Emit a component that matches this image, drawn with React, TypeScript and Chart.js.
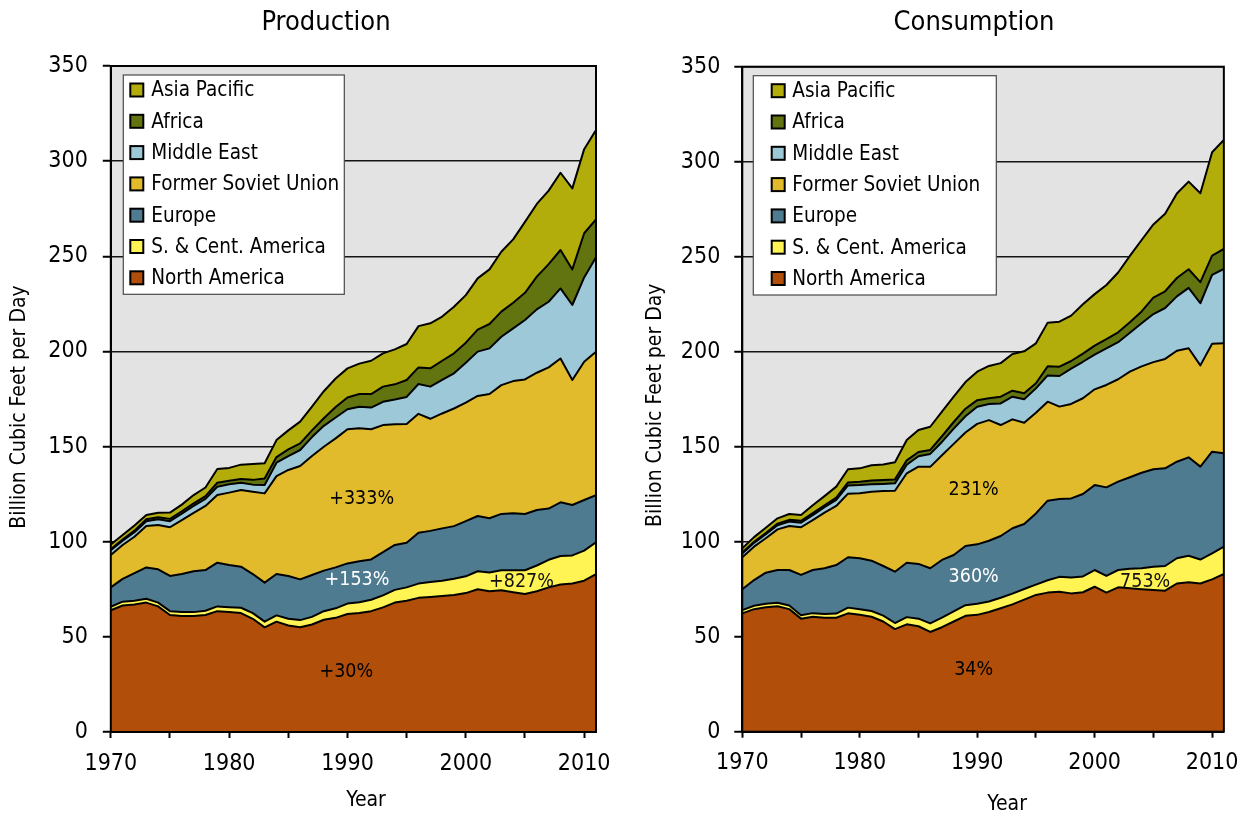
import React, { useEffect, useRef } from "react";
import { Chart, registerables } from "chart.js";

Chart.register(...registerables);

const FONT_FAMILY = "'DejaVu Sans Condensed', 'DejaVu Sans', sans-serif";

// ---------- data ----------
const YEARS = [
  1970, 1971, 1972, 1973, 1974, 1975, 1976, 1977, 1978, 1979,
  1980, 1981, 1982, 1983, 1984, 1985, 1986, 1987, 1988, 1989,
  1990, 1991, 1992, 1993, 1994, 1995, 1996, 1997, 1998, 1999,
  2000, 2001, 2002, 2003, 2004, 2005, 2006, 2007, 2008, 2009,
  2010, 2011,
];

const SERIES_NAMES = [
  "North America",
  "S. & Cent. America",
  "Europe",
  "Former Soviet Union",
  "Middle East",
  "Africa",
  "Asia Pacific",
];

const SERIES_COLORS = [
  "#B14E0A",
  "#FFF454",
  "#4E7B90",
  "#E2BB2D",
  "#9CC8D8",
  "#627410",
  "#B2AD0B",
];

// Production (billion cubic feet per day)
const NA_PROD = [64, 66.5, 67, 68, 66, 61.5, 61, 61, 61.5, 63.5, 63, 62.5, 59.5, 55, 58, 56, 55, 56.5, 59, 60, 62, 62.5, 63.5, 65.5, 68, 69, 70.5, 71, 71.5, 72, 73, 75, 74, 74.5, 73.5, 72.5, 74, 76, 77.5, 78, 79.5, 83];
const SCA_PROD = [1.8, 2.0, 2.0, 2.0, 2.0, 2.0, 2.0, 2.0, 2.2, 2.5, 2.6, 2.8, 3.0, 3.0, 3.3, 3.5, 3.8, 4.0, 4.5, 5.0, 5.5, 5.7, 6.0, 6.3, 6.7, 7.0, 7.5, 7.8, 8.0, 8.5, 8.8, 9.5, 9.8, 10.5, 11.5, 12.5, 13.5, 14.5, 15.0, 14.8, 15.8, 16.7];
const EUR_PROD = [10.2, 12, 14.5, 16.5, 17.5, 18.5, 20, 21.5, 21.4, 23, 22.2, 21.6, 20.5, 20.5, 21.7, 22.5, 21.4, 22, 21.3, 21.5, 21.1, 21.5, 21.2, 22.7, 23.6, 23.5, 26.7, 26.9, 27.5, 27.7, 29, 29, 28.5, 29.6, 29.9, 29.6, 29.2, 26.9, 28.2, 26.5, 26.6, 24.8];
const FSU_PROD = [17, 17.8, 19.1, 21.7, 23.3, 25.6, 28.4, 30.7, 33.7, 35.5, 38, 40.3, 43.3, 46.9, 51.5, 55.7, 59.6, 62.5, 65.1, 67.8, 70.5, 69.9, 68.4, 66.8, 63.4, 62.4, 62.5, 58.9, 60.4, 61.8, 62.3, 63.1, 65.3, 67.7, 69.5, 70.7, 72.1, 74.2, 75.6, 65.7, 72.7, 75.3];
const ME_PROD = [2.5, 2.2, 2.4, 2.6, 3.0, 3.2, 3.4, 3.6, 3.7, 4.4, 4.4, 3.8, 3.7, 4.4, 7.0, 7.3, 8.4, 10.0, 11.0, 11.0, 10.5, 11.3, 11.4, 12.2, 13.0, 14.2, 15.7, 16.9, 17.6, 18.5, 21.0, 23.3, 24.0, 25.4, 27.7, 31.2, 33.3, 34.5, 36.8, 39.4, 44.3, 49.7];
const AF_PROD = [0.5, 0.7, 0.8, 1.0, 1.0, 1.2, 1.2, 1.4, 1.5, 2.1, 1.8, 2.0, 2.5, 3.4, 3.0, 3.5, 3.5, 3.5, 4.0, 5.5, 6.2, 6.7, 7.1, 8.0, 8.0, 8.9, 8.7, 9.6, 10.1, 10.5, 10.5, 11.6, 12.8, 13.2, 13.5, 14.3, 17.2, 19.8, 20.2, 18.7, 23.2, 19.9];
const AP_PROD = [2.5, 2.3, 2.7, 2.2, 2.4, 3.3, 3.5, 4.3, 4.5, 7.2, 6.8, 7.5, 8.3, 8.0, 8.9, 10.0, 11.4, 12.5, 14.2, 15.0, 15.3, 16.0, 17.5, 17.5, 18.4, 18.9, 21.7, 23.7, 23.2, 24.5, 25.0, 26.9, 28.7, 31.5, 33.3, 37.3, 38.2, 38.6, 40.6, 42.6, 44.2, 46.9];

// Consumption (billion cubic feet per day)
const NA_CONS = [62.3, 64.5, 65.5, 66, 64.5, 59.5, 60.5, 60, 60, 62.3, 61.5, 60.5, 58, 54, 56.5, 55.5, 52.5, 55, 58, 61, 61.5, 63, 65, 67, 69.5, 72, 73.2, 73.7, 72.8, 73.4, 76.3, 73.2, 76, 75.5, 75, 74.6, 74.2, 78, 78.6, 78, 80.2, 83];
const SCA_CONS = [1.7, 1.8, 1.8, 1.9, 1.9, 1.8, 1.9, 2.0, 2.2, 3.0, 3.0, 3.0, 3.1, 3.2, 3.8, 4.0, 4.5, 5.0, 5.3, 5.6, 5.8, 5.5, 5.5, 5.7, 5.6, 5.4, 6.5, 7.8, 8.3, 8.3, 8.8, 8.8, 9.1, 10.2, 11.0, 12.2, 13.0, 13.3, 14.0, 12.6, 13.7, 14.4];
const EUR_CONS = [11.0, 13.5, 16.4, 17.2, 18.7, 21.2, 22.7, 24.0, 25.5, 26.5, 26.8, 26.5, 26.1, 27.0, 28.6, 28.8, 29.0, 30.4, 29.7, 31.1, 31.3, 32.0, 32.5, 34.4, 34.2, 37.5, 41.9, 41.0, 41.7, 43.4, 44.7, 46.6, 46.5, 48.2, 50.3, 51.3, 51.4, 50.8, 51.8, 48.9, 53.5, 49.1];
const FSU_CONS = [16.8, 17.6, 18.1, 21.4, 23.2, 25.1, 26.3, 29.3, 31.1, 33.5, 34.2, 36.3, 39.5, 42.6, 47.1, 51.2, 53.4, 55.1, 58.5, 59.8, 63.4, 63.5, 58.4, 57.3, 53.3, 53.0, 52.1, 48.6, 49.7, 50.4, 50.4, 53.9, 53.9, 55.6, 56.0, 56.4, 57.6, 58.4, 57.4, 53.3, 56.8, 57.9];
const ME_CONS = [2.0, 2.0, 2.1, 2.2, 2.3, 2.4, 2.6, 2.9, 3.2, 4.3, 4.3, 3.9, 3.7, 3.9, 4.5, 5.5, 6.8, 7.0, 8.0, 8.5, 9.0, 8.5, 11.4, 11.9, 12.4, 12.8, 13.8, 16.1, 18.6, 19.2, 18.3, 19.2, 19.5, 20.5, 22.7, 25.3, 26.8, 28.6, 31.8, 32.7, 36.2, 39.2];
const AF_CONS = [0.5, 0.6, 0.7, 0.8, 0.9, 1.0, 1.0, 1.0, 1.2, 1.6, 1.8, 2.0, 2.1, 2.1, 2.3, 2.2, 2.1, 3.0, 3.5, 4.0, 3.5, 3.0, 3.5, 3.2, 3.1, 2.7, 4.8, 4.9, 4.0, 4.3, 4.7, 4.9, 5.2, 5.5, 6.2, 8.7, 8.8, 9.7, 9.8, 11.1, 10.2, 10.5];
const AP_CONS = [2.2, 2.4, 2.7, 2.8, 3.1, 3.1, 4.2, 4.8, 5.8, 6.9, 7.0, 8.0, 8.1, 9.0, 10.7, 11.6, 12.2, 12.9, 13.3, 14.0, 15.0, 17.0, 17.7, 19.3, 22.1, 21.0, 23.0, 23.7, 23.9, 26.0, 27.1, 28.5, 31.5, 34.9, 37.6, 38.5, 40.8, 44.5, 46.1, 46.8, 54.4, 57.3];

const X_LABELED_TICKS = [1970, 1980, 1990, 2000, 2010];
const Y_TITLE = "Billion Cubic Feet per Day";
const X_TITLE = "Year";

// growth annotations (placed in data coordinates)
const PROD_NOTES = [
  { text: "+333%", x: 1991.2, y: 122.4, color: "#000" },
  { text: "+153%", x: 1990.8, y: 79.9, color: "#fff" },
  { text: "+827%", x: 2004.7, y: 79.0, color: "#111" },
  { text: "+30%", x: 1989.9, y: 31.7, color: "#000" },
];
const CONS_NOTES = [
  { text: "231%", x: 1989.7, y: 127.2, color: "#000" },
  { text: "360%", x: 1989.7, y: 81.6, color: "#fff" },
  { text: "753%", x: 2004.3, y: 79.0, color: "#111" },
  { text: "34%", x: 1989.7, y: 32.5, color: "#000" },
];

// ---------- layout ----------
const PROD_LAYOUT = {
  left: 0, width: 625,
  yWidth: 110.8, padRight: 29, titleTop: 7, titleBottom: 26.6, xHeight: 85,
  titleX: 326, yTickPad: 15, xTickPad: 12,
  legend: { dx: 12.5, dy: 9, w: 221, h: 219.3, swatchX: 7, textX: 28, firstRow: 15, rowGap: 31.3 },
  yTitle: { dx: -91.5, dy: 8 }, xTitle: { dx: 12.6, y: 801 },
};
const CONS_LAYOUT = {
  left: 625, width: 626,
  yWidth: 117.3, padRight: 23.5, titleTop: 7, titleBottom: 27.3, xHeight: 85.3,
  titleX: 349, yTickPad: 14, xTickPad: 12,
  legend: { dx: 11, dy: 9, w: 243, h: 219.3, swatchX: 18.4, textX: 39, firstRow: 15, rowGap: 31.3 },
  yTitle: { dx: -86.5, dy: 6 }, xTitle: { dx: 24, y: 805 },
};

function makePlugins(cfg: any, notes: any[]) {
  return [
    {
      id: "plotBg",
      beforeDraw(chart: any) {
        const { ctx, chartArea: a } = chart;
        ctx.save();
        ctx.fillStyle = "#E3E3E3";
        ctx.fillRect(a.left, a.top, a.right - a.left, a.bottom - a.top);
        ctx.restore();
      },
    },
    {
      id: "titleShift",
      afterLayout(chart: any) {
        const t = chart.titleBlock;
        if (t) {
          t.left = cfg.titleX - 200;
          t.right = cfg.titleX + 200;
        }
      },
    },
    {
      id: "frameNotes",
      afterDatasetsDraw(chart: any) {
        const { ctx, chartArea: a } = chart;
        ctx.save();
        ctx.strokeStyle = "#000";
        ctx.lineWidth = 2;
        ctx.strokeRect(a.left, a.top, a.right - a.left, a.bottom - a.top);
        ctx.font = `19.5px ${FONT_FAMILY}`;
        ctx.textAlign = "center";
        ctx.textBaseline = "middle";
        for (const n of notes) {
          ctx.fillStyle = n.color;
          ctx.fillText(n.text, chart.scales.x.getPixelForValue(n.x), chart.scales.y.getPixelForValue(n.y));
        }
        ctx.restore();
      },
    },
    {
      id: "boxLegendTitles",
      afterDraw(chart: any) {
        const { ctx, chartArea: a } = chart;
        const L = cfg.legend;
        const x0 = a.left + L.dx;
        const y0 = a.top + L.dy;
        ctx.save();
        ctx.fillStyle = "#fff";
        ctx.fillRect(x0, y0, L.w, L.h);
        ctx.strokeStyle = "#4a4a4a";
        ctx.lineWidth = 1.2;
        ctx.strokeRect(x0, y0, L.w, L.h);
        const ds = chart.data.datasets.slice().reverse();
        ctx.font = `20.5px ${FONT_FAMILY}`;
        ctx.textAlign = "left";
        ctx.textBaseline = "middle";
        ds.forEach((d: any, i: number) => {
          const cy = y0 + L.firstRow + i * L.rowGap;
          ctx.fillStyle = d.backgroundColor;
          ctx.fillRect(x0 + L.swatchX, cy - 6.5, 13, 13);
          ctx.strokeStyle = "#000";
          ctx.lineWidth = 2;
          ctx.strokeRect(x0 + L.swatchX, cy - 6.5, 13, 13);
          ctx.fillStyle = "#000";
          ctx.fillText(d.label, x0 + L.textX, cy + 1);
        });
        // axis titles
        ctx.font = `21px ${FONT_FAMILY}`;
        ctx.fillStyle = "#000";
        ctx.textAlign = "center";
        ctx.textBaseline = "middle";
        ctx.fillText(X_TITLE, (a.left + a.right) / 2 + cfg.xTitle.dx, cfg.xTitle.y);
        ctx.translate(a.left + cfg.yTitle.dx, (a.top + a.bottom) / 2 + cfg.yTitle.dy);
        ctx.rotate(-Math.PI / 2);
        ctx.fillText(Y_TITLE, 0, 0);
        ctx.restore();
      },
    },
  ];
}

function StackedAreaChart({ title, series, notes, cfg }: any) {
  const ref = useRef<HTMLCanvasElement>(null);
  useEffect(() => {
    const datasets = series.map((vals: number[], k: number) => ({
      label: SERIES_NAMES[k],
      data: vals.map((v, i) => ({ x: YEARS[i], y: v })),
      backgroundColor: SERIES_COLORS[k],
      borderColor: "#000",
      borderWidth: 2,
      borderJoinStyle: "round",
      fill: k === 0 ? "origin" : "-1",
      pointRadius: 0,
      pointHoverRadius: 0,
      tension: 0,
    }));
    const chart = new Chart(ref.current as HTMLCanvasElement, {
      type: "line",
      data: { datasets } as any,
      options: {
        responsive: false,
        animation: false,
        events: [],
        layout: { padding: { left: 0, right: cfg.padRight, top: 0, bottom: 0 } },
        scales: {
          x: {
            type: "linear",
            min: 1970,
            max: 2011,
            ticks: {
              stepSize: 5,
              includeBounds: false,
              autoSkip: false,
              maxRotation: 0,
              padding: cfg.xTickPad,
              color: "#000",
              font: { family: FONT_FAMILY, size: 23 },
              callback: (v: any) => (X_LABELED_TICKS.includes(Number(v)) ? String(v) : ""),
            },
            grid: { drawOnChartArea: false, drawTicks: true, tickLength: 6, tickWidth: 2, tickColor: "#000" },
            border: { display: true, color: "#000", width: 2 },
            afterFit: (s: any) => { s.height = cfg.xHeight; },
          },
          y: {
            stacked: true,
            min: 0,
            max: 350,
            ticks: {
              stepSize: 50,
              padding: cfg.yTickPad,
              color: "#000",
              font: { family: FONT_FAMILY, size: 23 },
            },
            grid: { color: "#151515", lineWidth: 1.5, tickLength: 8, tickWidth: 2, tickColor: "#000" },
            border: { display: true, color: "#000", width: 2 },
            afterFit: (s: any) => { s.width = cfg.yWidth; },
          },
        },
        plugins: {
          legend: { display: false },
          tooltip: { enabled: false },
          filler: { drawTime: "beforeDatasetsDraw" },
          title: {
            display: true,
            text: title,
            color: "#000",
            font: { family: FONT_FAMILY, size: 27, weight: "normal" },
            padding: { top: cfg.titleTop, bottom: cfg.titleBottom },
          },
        },
      } as any,
      plugins: makePlugins(cfg, notes) as any,
    });
    return () => chart.destroy();
  }, []);
  return (
    <canvas
      ref={ref}
      width={cfg.width}
      height={817}
      style={{ position: "absolute", left: cfg.left, top: 0, width: cfg.width, height: 817 }}
    />
  );
}

export default function App() {
  return (
    <div style={{ position: "fixed", left: 0, top: 0, width: 1251, height: 817, background: "#fff", overflow: "hidden" }}>
      <StackedAreaChart
        title="Production"
        series={[NA_PROD, SCA_PROD, EUR_PROD, FSU_PROD, ME_PROD, AF_PROD, AP_PROD]}
        notes={PROD_NOTES}
        cfg={PROD_LAYOUT}
      />
      <StackedAreaChart
        title="Consumption"
        series={[NA_CONS, SCA_CONS, EUR_CONS, FSU_CONS, ME_CONS, AF_CONS, AP_CONS]}
        notes={CONS_NOTES}
        cfg={CONS_LAYOUT}
      />
    </div>
  );
}
